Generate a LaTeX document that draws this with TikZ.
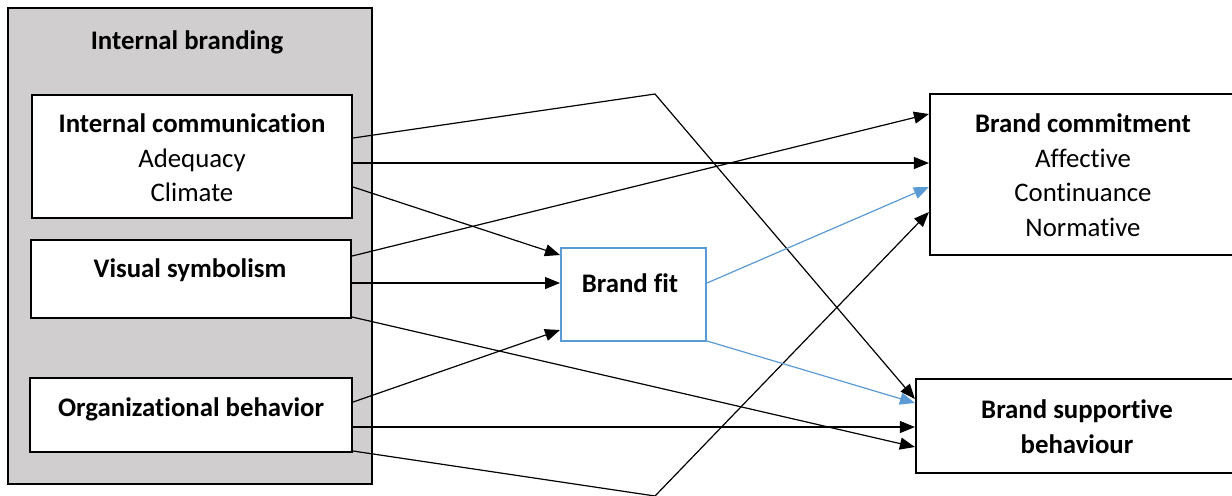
\documentclass[tikz,border=0pt]{standalone}
\usepackage{fontspec}
\setmainfont{Carlito}[Ligatures=NoCommon]
\usetikzlibrary{arrows.meta,fit}
\definecolor{boxgray}{RGB}{208,206,206}
\definecolor{fitblue}{RGB}{91,155,213}
\begin{document}
\begin{tikzpicture}[x=0.5pt,y=-0.5pt,
  box/.style={draw, line width=1.1pt, fill=white, inner sep=0pt},
  gbox/.style={draw, line width=1.1pt, fill=boxgray, inner sep=0pt},
  fitbox/.style={draw=fitblue, line width=1pt, fill=white, inner sep=0pt},
  lbl/.style={anchor=base, inner sep=0pt, font=\fontsize{13.4}{16}\selectfont},
  blbl/.style={lbl, font=\fontsize{13.4}{16}\selectfont\bfseries},
  conn/.style={line width=0.6pt, -{Triangle[length=7.5pt,width=6pt]}},
  bconn/.style={conn, draw=fitblue, -{Triangle[length=7.5pt,width=6pt,fill=fitblue]}}]
\path[use as bounding box, clip] (0,0) rectangle (1232,495);
\fill[white] (0,0) rectangle (1232,495);
% boxes
\node[gbox, fit={(8,8) (372,484)}] (ib) {};
\node[box, fit={(32,95) (352,218)}] (ic) {};
\node[box, fit={(31,240) (351,318)}] (vs) {};
\node[box, fit={(30,378) (352,452)}] (ob) {};
\node[fitbox, fit={(561,248) (706,341)}] (bf) {};
\node[box, fit={(930,94) (1240,255)}] (bc) {};
\node[box, fit={(916,379) (1240,473)}] (bsb) {};
% texts
\node[blbl] (tib) at (187,49) {Internal branding};
\node[blbl] (tic) at (192,132) {Internal communication};
\node[lbl] (tad) at (192,167) {Adequacy};
\node[lbl] (tcl) at (192,201) {Climate};
\node[blbl] (tvs) at (190,277) {Visual symbolism};
\node[blbl] (tob) at (191,416) {Organizational behavior};
\node[blbl] (tbf) at (630,292) {Brand fit};
\node[blbl] (tbc) at (1083,132) {Brand commitment};
\node[lbl] (taf) at (1083,167) {Affective};
\node[lbl] (tco) at (1083,201) {Continuance};
\node[lbl] (tno) at (1083,236) {Normative};
\node[blbl] (tbs1) at (1077,418) {Brand supportive};
\node[blbl] (tbs2) at (1077,453) {behaviour};
% waypoints
\coordinate (k1) at (655,94);
\coordinate (k2) at (655,496);
% connectors
\draw[conn] (ic.east |- 0,138) -- (k1) -- (bsb.west |- 0,399);
\draw[conn] (ic.east |- 0,163) -- (bc.west |- 0,163);
\draw[conn] (ic.east |- 0,187) -- (bf.west |- 0,255);
\draw[conn] (vs.east |- 0,256) -- (bc.west |- 0,114);
\draw[conn] (vs.east |- 0,283) -- (bf.west |- 0,283);
\draw[conn] (vs.east |- 0,317) -- (bsb.west |- 0,447);
\draw[conn] (ob.east |- 0,402) -- (bf.west |- 0,330);
\draw[conn] (ob.east |- 0,427) -- (bsb.west |- 0,427);
\draw[conn] (ob.east |- 0,451) -- (k2) -- (bc.west |- 0,212);
\draw[bconn] (bf.east |- 0,283) -- (bc.west |- 0,187);
\draw[bconn] (bf.east |- 0,341) -- (bsb.west |- 0,403);
\end{tikzpicture}
\end{document}
